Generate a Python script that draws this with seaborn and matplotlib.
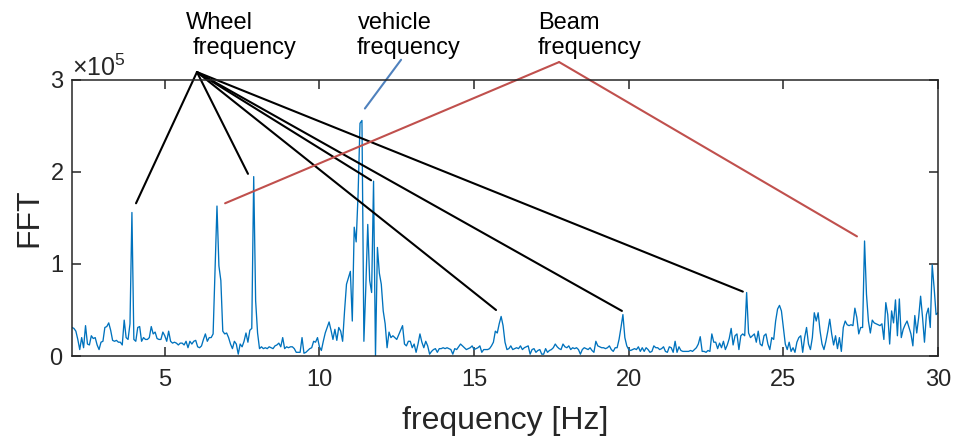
import numpy as np
import seaborn as sns
import matplotlib.pyplot as plt
from matplotlib.ticker import ScalarFormatter

sns.set_theme(style="ticks")
plt.rcParams["font.family"] = ["Liberation Sans", "DejaVu Sans"]
plt.rcParams["mathtext.fontset"] = "custom"
plt.rcParams["mathtext.rm"] = "Liberation Sans"

# FFT spectrum, bins of 0.0625 Hz starting at 2 Hz, values in units of 1e4
FREQ_START = 2.0
FREQ_STEP = 0.0625
FFT_UNIT = 1e4

fft_02_06 = [
    3.1, 3.0, 2.7, 1.8, 0.7, 2.0, 0.9, 3.3, 1.3, 1.2, 2.2, 1.9, 2.0, 1.2, 0.7, 1.5,
    1.6, 3.1, 3.2, 3.6, 2.8, 1.7, 1.6, 1.7, 1.5, 1.5, 1.2, 3.9, 2.0, 1.8, 3.5, 15.6,
    1.8, 1.6, 3.1, 3.2, 1.6, 2.0, 1.8, 1.8, 2.0, 3.2, 2.4, 2.6, 1.9, 1.8, 1.8, 2.6,
    2.2, 1.6, 2.7, 1.6, 1.4, 1.5, 1.4, 1.2, 1.4, 1.4, 1.2, 1.6, 0.9, 1.6, 1.3, 1.6,
]
fft_06_10 = [
    1.7, 1.0, 0.9, 1.1, 1.8, 2.4, 1.6, 2.0, 2.0, 2.4, 9.5, 16.3, 9.8, 8.2, 2.7, 2.4,
    2.5, 2.0, 1.3, 0.8, 1.6, 1.3, 0.2, 1.3, 1.0, 1.6, 2.5, 1.5, 2.8, 3.0, 19.5, 6.0,
    2.5, 0.8, 1.0, 0.8, 0.9, 0.8, 1.0, 0.9, 0.8, 1.1, 1.2, 1.4, 1.0, 2.0, 0.8, 1.0,
    0.9, 1.0, 1.0, 0.8, 0.4, 0.4, 0.4, 2.0, 0.3, 0.4, 0.6, 0.8, 0.9, 1.6, 1.5, 2.0,
]
fft_10_14 = [
    1.0, 0.6, 1.6, 2.5, 3.1, 3.7, 2.8, 1.8, 2.9, 1.7, 3.1, 2.7, 1.6, 4.9, 7.8, 8.5,
    9.2, 3.8, 14.0, 12.4, 17.6, 25.3, 25.6, 1.6, 7.5, 14.3, 8.2, 6.9, 19.0, 0.0, 11.8, 9.0,
    7.8, 4.9, 3.5, 0.9, 2.6, 2.0, 2.2, 2.0, 1.8, 2.3, 2.8, 3.3, 1.3, 1.1, 1.6, 1.6,
    0.9, 1.3, 0.4, 1.3, 2.4, 1.5, 0.9, 1.6, 1.1, 0.2, 0.5, 0.7, 0.8, 0.4, 0.8, 0.8,
]
fft_14_18 = [
    0.9, 0.8, 0.9, 0.8, 0.7, 0.2, 0.8, 0.7, 1.0, 1.3, 1.1, 0.9, 0.7, 0.8, 0.9, 1.1,
    0.7, 0.8, 0.9, 1.1, 0.4, 0.7, 0.7, 0.7, 0.8, 1.1, 1.5, 2.7, 2.5, 3.5, 4.3, 3.3,
    1.5, 0.7, 0.8, 1.1, 0.7, 0.8, 0.9, 0.8, 1.1, 0.7, 0.9, 1.0, 1.1, 0.2, 0.7, 0.8,
    0.4, 0.6, 0.7, 0.2, 0.2, 0.8, 0.4, 0.6, 0.7, 0.9, 1.3, 1.0, 0.8, 0.7, 1.3, 1.0,
]
fft_18_22 = [
    0.9, 1.1, 0.7, 0.9, 0.8, 0.9, 0.7, 0.2, 0.7, 0.9, 0.8, 0.7, 0.9, 0.6, 0.4, 1.6,
    1.1, 1.0, 0.9, 0.9, 0.8, 0.9, 1.1, 0.7, 0.5, 0.9, 0.9, 1.8, 3.1, 4.5, 2.0, 1.1,
    0.7, 0.6, 0.7, 0.8, 0.7, 1.0, 0.5, 0.9, 0.5, 0.9, 0.7, 0.4, 0.5, 1.1, 0.9, 0.9,
    0.7, 0.8, 1.0, 0.5, 0.4, 1.0, 0.9, 0.4, 1.6, 0.4, 1.0, 0.6, 0.5, 0.5, 0.5, 0.5,
]
fft_22_26 = [
    0.6, 0.5, 0.7, 0.9, 1.3, 2.1, 0.5, 0.5, 0.4, 0.6, 0.5, 2.4, 1.5, 1.5, 0.8, 1.4,
    0.9, 1.6, 0.7, 1.2, 1.9, 3.0, 1.2, 2.2, 2.4, 0.7, 2.2, 2.4, 2.2, 6.9, 2.5, 2.0,
    2.2, 2.4, 1.5, 2.7, 1.3, 1.1, 2.2, 2.4, 1.3, 0.7, 2.0, 1.8, 3.8, 5.1, 5.5, 4.9,
    3.1, 1.3, 0.7, 1.5, 0.5, 0.9, 0.4, 1.5, 2.0, 2.2, 0.4, 2.0, 3.1, 1.3, 0.7, 2.0,
]
fft_26_30 = [
    4.7, 3.8, 4.7, 2.7, 1.3, 0.7, 1.6, 2.7, 4.0, 2.4, 1.2, 2.2, 0.8, 2.0, 0.5, 3.1,
    3.8, 3.4, 3.3, 3.4, 3.3, 5.2, 4.2, 2.4, 3.1, 3.1, 12.5, 6.7, 3.8, 2.5, 3.9, 3.6,
    3.5, 3.4, 3.3, 3.5, 1.8, 5.8, 4.5, 1.3, 4.9, 3.6, 6.1, 2.2, 6.2, 2.0, 2.9, 3.4,
    3.8, 3.1, 2.4, 1.1, 4.4, 2.5, 4.2, 6.5, 4.2, 1.5, 4.5, 5.2, 3.1, 9.9, 7.4, 4.5,
    4.7,
]

# annotation leader lines (frequency [Hz], FFT value)
wheel_hub = (6.04, 3.086e5)
wheel_ends = [(4.07, 1.66e5), (7.69, 1.98e5), (11.67, 1.91e5),
              (15.71, 0.50e5), (19.78, 0.49e5), (23.69, 0.70e5)]
beam_hub = (17.75, 3.195e5)
beam_ends = [(6.95, 1.66e5), (27.38, 1.30e5)]
vehicle_line = [(11.47, 2.69e5), (12.64, 3.22e5)]

fft_vals = np.concatenate([fft_02_06, fft_06_10, fft_10_14, fft_14_18,
                           fft_18_22, fft_22_26, fft_26_30]) * FFT_UNIT
freq = FREQ_START + FREQ_STEP * np.arange(len(fft_vals))

W, H = 954, 436
fig = plt.figure(figsize=(W / 100, H / 100), dpi=100)
ax = fig.add_axes([72 / W, 1 - 356 / H, 866 / W, 276 / H])

sns.lineplot(x=freq, y=fft_vals, ax=ax, color="#0072BD", linewidth=0.95)

ax.set_xlim(2, 30)
ax.set_ylim(0, 3e5)
ax.set_xticks([5, 10, 15, 20, 25, 30])
ax.set_yticks([0, 1e5, 2e5, 3e5])
fmt = ScalarFormatter(useMathText=True)
fmt.set_powerlimits((0, 0))
ax.yaxis.set_major_formatter(fmt)
ax.yaxis.get_offset_text().set_fontsize(18)
ax.yaxis.get_offset_text().set_color("#262626")

ax.tick_params(direction="in", length=6.5, width=1.1, top=True, right=True,
               labelsize=17, colors="#262626")
ax.tick_params(axis="x", pad=9)
ax.tick_params(axis="y", pad=6)
for s in ax.spines.values():
    s.set_visible(True)
    s.set_linewidth(1.1)
    s.set_color("#262626")

ax.set_xlabel("frequency [Hz]", fontsize=23, color="#262626", labelpad=11)
ax.set_ylabel("FFT", fontsize=23, color="#262626", labelpad=4)

# leader lines
for f, y in wheel_ends:
    ax.plot([wheel_hub[0], f], [wheel_hub[1], y], color="black", lw=1.5, clip_on=False)
for f, y in beam_ends:
    ax.plot([beam_hub[0], f], [beam_hub[1], y], color="#C0504D", lw=1.5, clip_on=False)
ax.plot([p[0] for p in vehicle_line], [p[1] for p in vehicle_line],
        color="#4F81BD", lw=1.5, clip_on=False)

# labels above the axes (pixel positions of the left edge and baseline)
labels = [("Wheel", 186, 29), ("frequency", 193, 54),
          ("vehicle", 358, 29), ("frequency", 357, 54),
          ("Beam", 538, 29), ("frequency", 538, 54)]
for txt, px, py in labels:
    fig.text(px / W, 1 - py / H, txt, fontsize=17, ha="left", va="baseline", color="black")

fig.savefig("out.png", dpi=100)
